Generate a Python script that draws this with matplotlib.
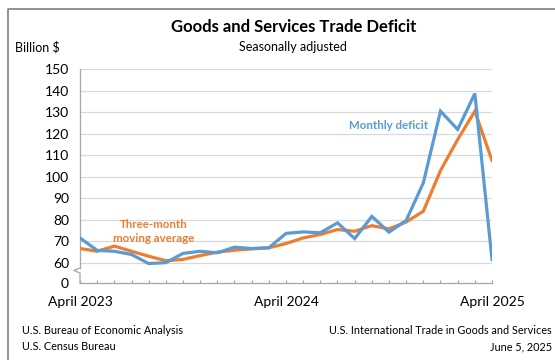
import matplotlib
matplotlib.use("Agg")
import matplotlib.pyplot as plt
from matplotlib.lines import Line2D

plt.rcParams['font.family'] = ['Lato', 'DejaVu Sans']

months = list(range(25))
tick_labels = {0: "April 2023", 12: "April 2024", 24: "April 2025"}
monthly_deficit = [71.5, 65.7, 65.3, 63.8, 59.6, 60.0, 64.3, 65.3, 64.6, 67.2, 66.6, 66.9,
                   73.6, 74.3, 73.9, 78.5, 71.2, 81.5, 74.2, 79.6, 97.1, 130.4, 121.9, 138.6, 61.5]
moving_average = [66.6, 65.3, 67.7, 65.3, 63.0, 60.9, 61.5, 63.3, 64.9, 65.8, 66.4, 66.9,
                  68.9, 71.5, 73.1, 75.4, 74.6, 77.2, 75.7, 78.9, 83.9, 102.8, 117.2, 130.4, 107.5]
y_ticks = [60, 70, 80, 90, 100, 110, 120, 130, 140, 150]

BLUE = "#5B9BD5"
ORANGE = "#ED7D31"
GRID = "#D9D9D9"
AXIS = "#A6A6A6"

W, H = 555, 360
fig = plt.figure(figsize=(W / 100, H / 100), dpi=100)
fig.patch.set_facecolor("white")

ax = fig.add_axes([80 / W, 1 - 283 / H, 412 / W, 214 / H])
ybot = 60 - (283 - 262.7) / 2.15
ax.set_ylim(ybot, 150)
ax.set_xlim(0, 24)

ax.plot(months, moving_average, color=ORANGE, lw=2.3, solid_joinstyle="miter", zorder=3)
ax.plot(months, monthly_deficit, color=BLUE, lw=2.3, solid_joinstyle="miter", zorder=4)

# gridlines
ax.set_yticks([ybot] + y_ticks)
ax.set_yticklabels(["0"] + [str(v) for v in y_ticks])
for v in y_ticks:
    ax.axhline(v, color=GRID, lw=0.9, zorder=1)
ax.tick_params(axis="y", length=0, pad=8, labelsize=10, colors="#000000")

ax.set_xticks(months)
ax.set_xticklabels([tick_labels.get(m, "") for m in months])
ax.tick_params(axis="x", direction="in", length=2.5, width=0.9, color=AXIS, pad=9, labelsize=10)

for s in ["top", "right"]:
    ax.spines[s].set_visible(False)
ax.spines["bottom"].set_color(AXIS)
ax.spines["bottom"].set_linewidth(0.9)
ax.spines["left"].set_color(AXIS)
ax.spines["left"].set_linewidth(0.9)
ax.spines["left"].set_bounds(57.5, 150)

# axis break
tr = ax.get_yaxis_transform()
ax.add_line(Line2D([0, -0.015, 0, 0], [57.5, 56.4, 55.2, ybot], transform=tr,
                   color=AXIS, lw=0.9, clip_on=False))

# series labels
ax.text(18.0, 123.6, "Monthly deficit", color=BLUE, fontsize=8.3, fontweight="bold",
        ha="center", va="center")
ax.text(4.3, 74.3, "Three-month\nmoving average", color=ORANGE, fontsize=8.3,
        fontweight="bold", ha="center", va="center", linespacing=1.35)

# titles
fig.text(294 / W, 1 - 27 / H, "Goods and Services Trade Deficit", ha="center", va="center",
         fontsize=12, fontweight="bold")
fig.text(293 / W, 1 - 47 / H, "Seasonally adjusted", ha="center", va="center", fontsize=9)
fig.text(15 / W, 1 - 47 / H, "Billion $", ha="left", va="center", fontsize=9)

# footers
fig.text(22 / W, 1 - 331 / H, "U.S. Bureau of Economic Analysis", ha="left", va="center", fontsize=7.8)
fig.text(22 / W, 1 - 347 / H, "U.S. Census Bureau", ha="left", va="center", fontsize=7.8)
fig.text(552 / W, 1 - 331 / H, "U.S. International Trade in Goods and Services", ha="right",
         va="center", fontsize=7.8)
fig.text(552 / W, 1 - 347 / H, "June 5, 2025", ha="right", va="center", fontsize=7.8)

# frame (top and left edges visible)
fig.add_artist(Line2D([7.5 / W, 7.5 / W, 1.0], [0.0, 1 - 8.5 / H, 1 - 8.5 / H],
                      transform=fig.transFigure, color="#7F7F7F", lw=1.2))

fig.savefig("out.png", dpi=100)
